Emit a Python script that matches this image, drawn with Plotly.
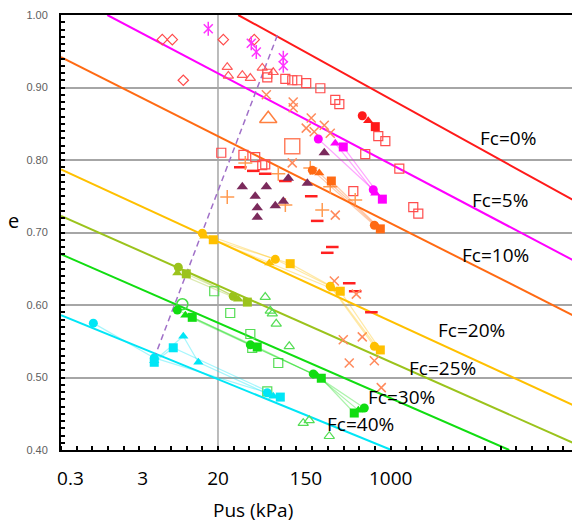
import plotly.graph_objects as go

# ---------------- data (x in axis units of the pseudo-log Pus axis, y = void ratio e) -------------
x_tick_vals = [0.6, 5.2, 10, 15.6, 21]
x_tick_text = ["0.3", "3", "20", "150", "1000"]

fc_labels = ["Fc=0%", "Fc=5%", "Fc=10%", "Fc=20%", "Fc=25%", "Fc=30%", "Fc=40%"]
fc_line_x0 = [11.29, 2.95, 0.0, 0.0, 0.0, 0.0, 0.0]
fc_line_e0 = [1.000, 1.000, 0.942, 0.787, 0.723, 0.670, 0.586]
fc_line_x1 = [32.6, 32.6, 32.6, 32.6, 32.6, 28.55, 21.04]
fc_line_e1 = [0.745, 0.662, 0.586, 0.462, 0.410, 0.400, 0.400]
fc_label_x = [28.49, 27.98, 27.66, 26.13, 24.29, 21.68, 19.06]
fc_label_e = [0.830, 0.745, 0.669, 0.566, 0.513, 0.473, 0.436]

dashed_x = [13.78, 6.01]
dashed_e = [0.972, 0.531]

diamond_x = [6.45, 7.09, 7.79, 10.34, 12.31]
diamond_e = [0.966, 0.966, 0.910, 0.966, 0.966]

star_x = [9.38, 12.12, 12.44, 14.16, 14.16]
star_e = [0.981, 0.961, 0.949, 0.941, 0.930]

otri_x = [10.59, 10.66, 11.55, 12.06, 12.82, 13.52]
otri_e = [0.928, 0.916, 0.917, 0.913, 0.927, 0.921]

osq_x = [13.14, 13.14, 14.29, 14.73, 15.05, 15.62, 16.52, 17.47, 17.73, 20.21, 20.66,
         19.38, 21.55, 18.62, 22.44, 22.76, 10.21, 11.62, 12.37, 12.82, 13.01]
osq_e = [0.919, 0.914, 0.912, 0.910, 0.910, 0.906, 0.899, 0.883, 0.877, 0.833, 0.826,
         0.808, 0.788, 0.757, 0.735, 0.726, 0.810, 0.807, 0.804, 0.793, 0.794]

dash_x = [11.42, 12.25, 13.01, 14.29, 15.94, 16.32, 17.28, 16.96, 18.36, 18.74, 19.77]
dash_e = [0.790, 0.785, 0.781, 0.771, 0.750, 0.716, 0.680, 0.672, 0.630, 0.619, 0.590]

plus_x = [11.74, 13.84, 10.59, 14.29, 15.88, 17.15, 18.74, 16.64]
plus_e = [0.796, 0.781, 0.749, 0.738, 0.789, 0.763, 0.745, 0.731]

cross_x = [13.08, 14.79, 14.79, 15.94, 15.62, 16.13, 16.77, 17.15, 14.73, 17.47, 17.41,
           18.81, 17.98, 19.19, 18.36, 19.96, 20.40]
cross_e = [0.890, 0.880, 0.872, 0.858, 0.844, 0.839, 0.848, 0.837, 0.796, 0.724, 0.633,
           0.615, 0.552, 0.556, 0.520, 0.523, 0.486]

ptri_x = [11.55, 12.37, 13.08, 12.50, 12.50, 13.65, 14.16, 14.48, 15.69, 16.77]
ptri_e = [0.763, 0.750, 0.763, 0.734, 0.721, 0.737, 0.743, 0.775, 0.768, 0.810]

gsq_x = [9.76, 10.78, 12.06, 12.18, 13.84, 13.14]
gsq_e = [0.619, 0.589, 0.560, 0.541, 0.520, 0.481]

gtri_x = [13.01, 13.33, 13.46, 13.71, 14.54, 15.43, 15.81, 17.09]
gtri_e = [0.611, 0.592, 0.588, 0.574, 0.543, 0.437, 0.441, 0.419]

big_tri_x, big_tri_e = [13.20], [0.857]
big_sq_x, big_sq_e = [14.73], [0.819]
big_circ_x, big_circ_e = [7.73], [0.601]

# filled series per fines content: (circle, triangle, square)
red_c_x, red_c_e = [19.19], [0.861]
red_t_x, red_t_e = [19.57], [0.854]
red_s_x, red_s_e = [20.02], [0.846]

mag_c_x, mag_c_e = [16.39, 19.89], [0.829, 0.759]
mag_t_x, mag_t_e = [17.47, 20.02], [0.823, 0.754]
mag_s_x, mag_s_e = [17.98, 20.47], [0.818, 0.746]

org_c_x, org_c_e = [16.01, 19.96], [0.786, 0.710]
org_t_x, org_t_e = [16.45, 20.15], [0.782, 0.708]
org_s_x, org_s_e = [17.22, 20.34], [0.771, 0.705]

yel_c_x, yel_c_e = [9.00, 13.65, 17.15, 19.96], [0.699, 0.663, 0.626, 0.543]
yel_t_x, yel_t_e = [9.13, 13.27, 17.34, 20.15], [0.695, 0.658, 0.622, 0.541]
yel_s_x, yel_s_e = [9.70, 14.60, 17.79, 20.34], [0.690, 0.657, 0.619, 0.538]

olv_c_x, olv_c_e = [7.47, 10.97], [0.652, 0.612]
olv_t_x, olv_t_e = [7.41, 11.29], [0.644, 0.608]
olv_s_x, olv_s_e = [7.98, 11.87], [0.643, 0.604]

grn_c_x, grn_c_e = [7.41, 12.06, 16.07, 19.32], [0.593, 0.545, 0.505, 0.458]
grn_t_x, grn_t_e = [7.92, 12.25, 16.32, 18.94], [0.586, 0.543, 0.502, 0.455]
grn_s_x, grn_s_e = [8.36, 12.50, 16.58, 18.68], [0.583, 0.542, 0.499, 0.451]

cyn_c_x, cyn_c_e = [2.06, 5.94, 13.14], [0.575, 0.527, 0.479]
cyn_t_x, cyn_t_e = [5.94, 7.79, 8.75, 13.52], [0.523, 0.557, 0.521, 0.474]
cyn_s_x, cyn_s_e = [5.94, 7.15, 13.97], [0.521, 0.541, 0.473]

# ---------------- styling ----------------
FC_COLORS = ["#ff1a1a", "#ff00ff", "#ff6a13", "#ffc000", "#9bc31c", "#11dd11", "#00e6f6"]

fig = go.Figure()

# Fc reference lines
for i in range(len(fc_labels)):
    fig.add_trace(go.Scatter(x=[fc_line_x0[i], fc_line_x1[i]], y=[fc_line_e0[i], fc_line_e1[i]],
                             mode="lines", line=dict(color=FC_COLORS[i], width=2), hoverinfo="skip"))

# dashed boundary
fig.add_trace(go.Scatter(x=dashed_x, y=dashed_e, mode="lines",
                         line=dict(color="#a070c8", width=1.5, dash="6px,4px")))


def open_pts(x, y, symbol, color, size=8, width=1.2):
    fig.add_trace(go.Scatter(x=x, y=y, mode="markers",
                             marker=dict(symbol=symbol, size=size, color=color,
                                         line=dict(color=color, width=width))))


open_pts(diamond_x, diamond_e, "diamond-open", "#ff4a4a", 8)
open_pts(star_x, star_e, "x-thin-open", "#ff33ff", 9, 1.5)
open_pts(star_x, star_e, "line-ns-open", "#ff33ff", 10, 1.5)
open_pts(otri_x, otri_e, "triangle-up-open", "#ff5a5a", 9)
open_pts(osq_x, osq_e, "square-open", "#ff4d4d", 9)
open_pts(dash_x, dash_e, "line-ew-open", "#ff2020", 9, 2.5)
open_pts(plus_x, plus_e, "cross-thin-open", "#ff9a50", 10, 1.5)
open_pts(cross_x, cross_e, "x-thin-open", "#ff8a5c", 9, 1.5)
open_pts(gsq_x, gsq_e, "square-open", "#55dd55", 9)
open_pts(gtri_x, gtri_e, "triangle-up-open", "#55dd55", 9)
open_pts(big_tri_x, big_tri_e, "triangle-up-open", "#ff8040", 15, 1.5)
open_pts(big_sq_x, big_sq_e, "square-open", "#ff8060", 15, 1.5)
open_pts(big_circ_x, big_circ_e, "circle-open", "#44dd44", 11, 1.5)

fig.add_trace(go.Scatter(x=ptri_x, y=ptri_e, mode="markers",
                         marker=dict(symbol="triangle-up", size=10, color="#7b2a5c")))


def rgba(hexc, a):
    h = hexc.lstrip("#")
    return "rgba(%d,%d,%d,%.2f)" % (int(h[0:2], 16), int(h[2:4], 16), int(h[4:6], 16), a)


groups = [
    (FC_COLORS[0], [(red_c_x, red_c_e), (red_t_x, red_t_e), (red_s_x, red_s_e)]),
    (FC_COLORS[1], [(mag_c_x, mag_c_e), (mag_t_x, mag_t_e), (mag_s_x, mag_s_e)]),
    (FC_COLORS[2], [(org_c_x, org_c_e), (org_t_x, org_t_e), (org_s_x, org_s_e)]),
    (FC_COLORS[3], [(yel_c_x, yel_c_e), (yel_t_x, yel_t_e), (yel_s_x, yel_s_e)]),
    (FC_COLORS[4], [(olv_c_x, olv_c_e), (olv_t_x, olv_t_e), (olv_s_x, olv_s_e)]),
    (FC_COLORS[5], [(grn_c_x, grn_c_e), (grn_t_x, grn_t_e), (grn_s_x, grn_s_e)]),
    (FC_COLORS[6], [(cyn_c_x, cyn_c_e), (cyn_t_x, cyn_t_e), (cyn_s_x, cyn_s_e)]),
]
symbols = ["circle", "triangle-up", "square"]
for color, series in groups:
    for (sx, sy), sym in zip(series, symbols):
        fig.add_trace(go.Scatter(x=sx, y=sy, mode="lines+markers",
                                 line=dict(color=rgba(color, 0.35), width=1.2),
                                 marker=dict(symbol=sym, size=9, color=color)))

# vertical grid line at the "20" label
fig.add_shape(type="line", xref="x", yref="y", x0=x_tick_vals[2], x1=x_tick_vals[2], y0=0.40, y1=1.00,
              line=dict(color="#a6a6a6", width=1.5), layer="below")

for i, lab in enumerate(fc_labels):
    fig.add_annotation(x=fc_label_x[i], y=fc_label_e[i], xref="x", yref="y", text=lab,
                       showarrow=False, font=dict(family="Open Sans", size=19, color="black"))

# axis titles as annotations (pixel-anchored relative to plot area)
fig.add_annotation(x=12.2, y=0.40, xref="x", yref="y", yshift=-60, text="Pus (kPa)",
                   showarrow=False, font=dict(family="Open Sans", size=19, color="black"))
fig.add_annotation(x=0, y=0.70, xref="x", yref="y", xshift=-48, yshift=12, text="e",
                   showarrow=False, font=dict(family="Open Sans", size=20, color="black"))

fig.update_layout(
    width=572, height=526,
    margin=dict(l=61, r=0, t=15, b=76, autoexpand=False),
    plot_bgcolor="white", paper_bgcolor="white",
    showlegend=False,
    xaxis=dict(range=[0, 32.55], tickmode="array", tickvals=x_tick_vals, ticktext=x_tick_text,
               automargin=False,
               showgrid=False, zeroline=False, showline=True, linecolor="black", linewidth=2,
               mirror=True, ticks="", ticklabelstandoff=10,
               tickfont=dict(family="Open Sans", size=19, color="black"),
               minor=dict(ticks="inside", dtick=1, tick0=0, ticklen=4, tickwidth=1.5,
                          tickcolor="black", showgrid=False)),
    yaxis=dict(range=[0.40, 1.00], dtick=0.1, tickformat=".2f", showgrid=True, automargin=False,
               gridcolor="#a6a6a6", gridwidth=1.5, zeroline=False, showline=True,
               linecolor="black", linewidth=2, ticks="inside", ticklen=4, tickwidth=1.5,
               tickcolor="black", ticklabelstandoff=9,
               tickfont=dict(family="Liberation Sans", size=11, color="#606060"),
               minor=dict(ticks="inside", dtick=0.01, ticklen=4, tickwidth=1.5,
                          tickcolor="black", showgrid=False)),
)

fig.write_html("out.html", config={"displayModeBar": False},
               post_script="document.body.style.margin='0';document.body.style.overflow='hidden';")
